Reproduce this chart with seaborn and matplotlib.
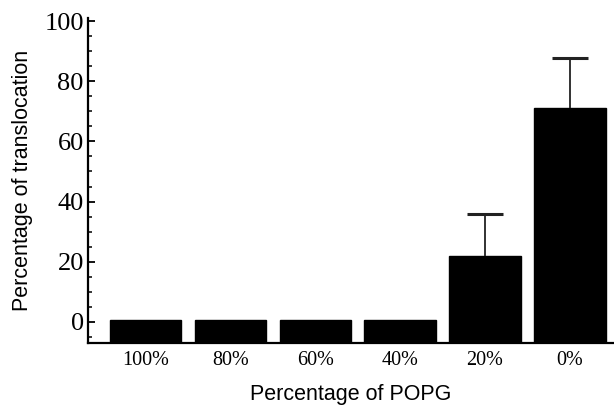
import numpy as np
import pandas as pd
import matplotlib
matplotlib.use('Agg')
import matplotlib.pyplot as plt
import seaborn as sns
from matplotlib.ticker import MultipleLocator

# data
popg = ['100%', '80%', '60%', '40%', '20%', '0%']
translocation = [0.8, 0.8, 0.8, 0.8, 21.9, 71.1]
err_up = [0, 0, 0, 0, 14.0, 16.7]

y_bottom = -7.0
y_top = 101.0

sns.set_style('white', {'text.color': 'black', 'axes.labelcolor': 'black',
                        'xtick.color': 'black', 'ytick.color': 'black'})

fig = plt.figure(figsize=(6.14, 4.05), dpi=100)
ax = fig.add_axes([88/614, 62/405, 526/614, 325/405])

df = pd.DataFrame({'popg': popg, 'val': translocation})
sns.barplot(data=df, x='popg', y='val', color='black', saturation=1,
            width=0.84, errorbar=None, ax=ax)

# bars in the original rise from the bottom of the axis
for p, v in zip(ax.patches, translocation):
    p.set_y(y_bottom)
    p.set_height(v - y_bottom)
    p.set_edgecolor('black')

# one-sided error bars, only where there is an error
idx = [i for i, e in enumerate(err_up) if e > 0]
_, caps, _ = ax.errorbar(idx, [translocation[i] for i in idx],
                         yerr=[[0] * len(idx), [err_up[i] for i in idx]],
                         fmt='none', ecolor='#222222', elinewidth=1.3,
                         capsize=13, capthick=2.2)
caps[0].set_visible(False)  # lower caps

ax.set_ylim(y_bottom, y_top)
ax.set_xlim(-0.677, 5.52)

ax.yaxis.set_major_locator(MultipleLocator(20))
ax.yaxis.set_minor_locator(MultipleLocator(5))
ax.tick_params(axis='y', which='major', direction='in', length=5, width=1.3,
               pad=3, left=True, labelsize=19)
ax.tick_params(axis='y', which='minor', direction='in', length=3, width=1.1,
               left=True)
ax.tick_params(axis='x', length=0, pad=6, labelsize=14.5)

for lbl in ax.get_yticklabels() + ax.get_xticklabels():
    lbl.set_family('Liberation Serif')

for s in ['top', 'right']:
    ax.spines[s].set_visible(False)
for s in ['left', 'bottom']:
    ax.spines[s].set_color('black')
    ax.spines[s].set_linewidth(1.6)

ax.set_ylabel('Percentage of translocation', family='Liberation Sans',
              fontsize=15.5, labelpad=8)
ax.set_xlabel('Percentage of POPG', family='Liberation Sans',
              fontsize=15.5, labelpad=10)

fig.savefig('out.png', dpi=100, facecolor='white')
